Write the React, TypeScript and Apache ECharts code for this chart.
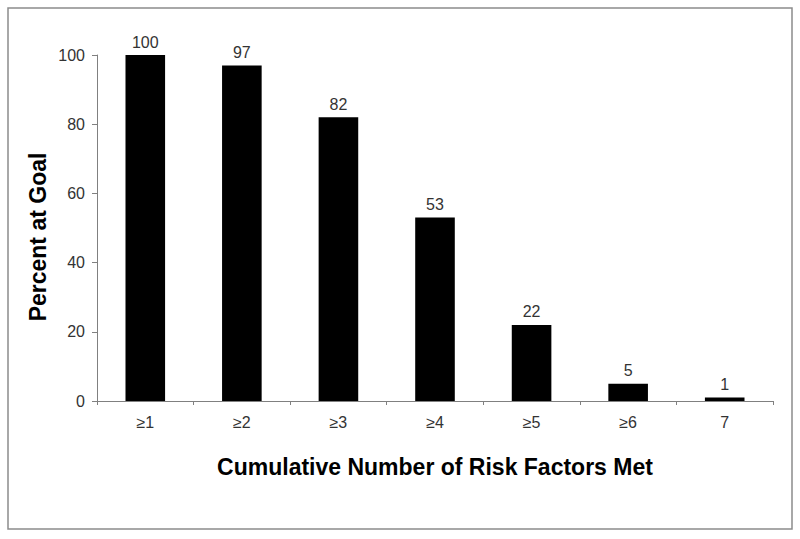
import React, { useEffect, useRef } from "react";
import * as echarts from "echarts";

const categories = ["≥1", "≥2", "≥3", "≥4", "≥5", "≥6", "7"];
const percentAtGoal = [100, 97, 82, 53, 22, 5, 1];
const yTicks = { min: 0, max: 100, interval: 20 };
const yTitle = "Percent at Goal";
const xTitle = "Cumulative Number of Risk Factors Met";

export default function App() {
  const ref = useRef<HTMLDivElement>(null);
  useEffect(() => {
    if (!ref.current) return;
    const chart = echarts.init(ref.current, null, { renderer: "svg" });
    const font = "'Liberation Sans', Arial, sans-serif";
    chart.setOption({
      animation: false,
      backgroundColor: "#ffffff",
      graphic: [
        {
          type: "rect",
          shape: { x: 8, y: 8, width: 784, height: 521 },
          style: { fill: "none", stroke: "#8c8c8c", lineWidth: 1.5 },
          silent: true,
        },
        {
          type: "text",
          x: 38,
          y: 237,
          rotation: Math.PI / 2,
          style: {
            text: yTitle,
            fontFamily: font,
            fontSize: 23,
            fontWeight: "bold",
            fill: "#000",
            align: "center",
            verticalAlign: "middle",
          },
          silent: true,
        },
      ],
      grid: { left: 97, right: 27, top: 55, bottom: 138, containLabel: false },
      xAxis: {
        type: "category",
        data: categories,
        name: xTitle,
        nameLocation: "middle",
        nameGap: 54,
        nameTextStyle: { fontFamily: font, fontSize: 23, fontWeight: "bold", color: "#000" },
        axisLine: { lineStyle: { color: "#808080", width: 1 } },
        axisTick: { show: true, alignWithLabel: false, length: 4, lineStyle: { color: "#808080" } },
        axisLabel: { fontFamily: font, fontSize: 16, color: "#333", margin: 13 },
        splitLine: { show: false },
      },
      yAxis: {
        type: "value",
        min: yTicks.min,
        max: yTicks.max,
        interval: yTicks.interval,
        axisLine: { show: true, lineStyle: { color: "#808080", width: 1 } },
        axisTick: { show: true, length: 5, lineStyle: { color: "#808080" } },
        axisLabel: { fontFamily: font, fontSize: 16, color: "#333", margin: 12 },
        splitLine: { show: false },
      },
      series: [
        {
          type: "bar",
          data: percentAtGoal,
          barWidth: "41%",
          itemStyle: { color: "#000000" },
          label: {
            show: true,
            position: "top",
            distance: 5,
            fontFamily: font,
            fontSize: 16,
            color: "#333",
          },
        },
      ],
    });
    return () => chart.dispose();
  }, []);
  return <div ref={ref} style={{ width: 800, height: 539, position: "absolute", left: 0, top: 0 }} />;
}
